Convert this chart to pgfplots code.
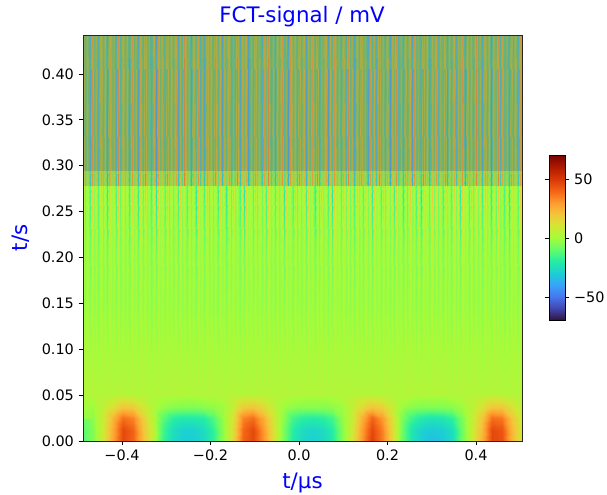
\documentclass[border=0pt]{standalone}
\usepackage{pgfplots}
\usepackage{pgfplotstable}
\usepackage{fontspec}
\setmainfont{DejaVu Sans}
\pgfplotsset{compat=1.18}
\pgfplotsset{colormap={turbo}{rgb255=(48,18,59) rgb255=(65,69,171) rgb255=(70,117,237) rgb255=(57,162,252) rgb255=(27,207,212) rgb255=(36,236,166) rgb255=(97,252,108) rgb255=(164,252,59) rgb255=(209,232,52) rgb255=(243,198,58) rgb255=(254,155,45) rgb255=(243,99,21) rgb255=(217,56,6) rgb255=(177,25,1) rgb255=(122,4,2)}}
\pgfplotsset{colormap={muted}{rgb255=(50,70,150) rgb255=(52,82,162) rgb255=(60,108,182) rgb255=(70,132,195) rgb255=(78,155,203) rgb255=(82,170,188) rgb255=(90,178,150) rgb255=(115,178,108) rgb255=(158,175,75) rgb255=(190,168,62) rgb255=(202,148,68) rgb255=(198,125,72) rgb255=(180,102,65) rgb255=(155,80,55) rgb255=(125,60,45)}}
\pgfplotsset{colormap={mutedb}{rgb255=(50,70,150) rgb255=(55,80,165) rgb255=(65,112,210) rgb255=(64,147,224) rgb255=(52,181,208) rgb255=(59,203,177) rgb255=(94,215,129) rgb255=(140,215,84) rgb255=(184,204,64) rgb255=(216,183,60) rgb255=(228,152,56) rgb255=(220,112,46) rgb255=(198,80,35) rgb255=(165,52,28) rgb255=(124,32,24)}}
\pgfplotstableread{
c
22
-10
14
-22
30
-4
12
-18
26
-8
18
-28
28
2
8
-20
33
-12
20
-6
16
-24
30
-2
10
-26
24
-14
34
-4
6
-20
22
-30
28
0
14
-16
32
-10
18
-6
26
-24
12
-12
34
-2
8
-28
24
-8
30
-16
10
-22
28
2
16
-14
32
-8
20
-26
14
-4
28
-18
6
-10
34
-22
18
0
24
-28
12
-12
30
-6
10
-20
26
-2
34
-16
16
-24
22
-6
30
-10
8
-30
28
-2
14
-18
32
-8
20
-26
12
-4
28
-14
34
-22
6
0
24
-28
18
-10
30
-6
10
-20
26
-16
33
-4
14
-24
22
-10
30
-2
8
-26
28
-12
18
-20
34
-6
12
-16
24
-30
16
0
32
-14
10
-22
26
-8
20
-28
30
-4
6
-18
34
-10
22
-24
14
-2
28
-16
8
-6
32
-26
18
-12
24
-20
12
0
30
-28
26
-8
16
-14
34
-4
10
-22
28
-10
20
-30
14
-2
32
-18
24
-6
8
-24
30
-12
18
-20
26
-4
}\tabTop
\pgfplotstablevertcat{\tabTopTwo}{\tabTop}
\pgfplotstablevertcat{\tabTopTwo}{\tabTop}
\pgfplotstableread{
c
4
3
4
2
4
3
3
2
4
3
4
2
4
3
3
2
4
3
4
3
3
2
4
3
3
2
4
3
4
3
3
2
4
2
4
3
3
2
4
3
}\tabRa
\pgfplotstableread{
c
0
-3
1
-4
2
-3
0
-4
2
-3
0
-4
2
-2
0
-4
2
-3
0
-3
0
-4
2
-2
0
-4
2
-3
2
-3
0
-4
0
-4
2
-2
0
-3
2
-3
}\tabRb
\pgfplotstableread{
c
3
-5
2
-7
4
-4
1
-6
4
-4
2
-8
4
-2
1
-6
5
-5
2
-4
2
-7
4
-3
1
-7
3
-5
5
-3
0
-6
3
-8
4
-2
2
-6
5
-4
}\tabRc
\pgfplotstableread{
c
7
-7
3
-12
11
-5
3
-11
10
-6
6
-15
11
-2
2
-11
12
-7
7
-6
4
-12
11
-3
2
-14
8
-9
12
-5
0
-11
7
-15
11
-2
3
-10
12
-7
}\tabRd
\pgfplotstableread{
c
11
-8
6
-15
16
-4
5
-13
14
-7
9
-19
15
-1
3
-14
18
-9
10
-6
8
-16
16
-3
4
-18
12
-10
18
-4
2
-14
11
-20
15
-2
6
-12
17
-8
}\tabRe
\newcommand\rowfive[1]{\pgfplotstablevertcat{\tabMid}{#1}\pgfplotstablevertcat{\tabMid}{#1}\pgfplotstablevertcat{\tabMid}{#1}\pgfplotstablevertcat{\tabMid}{#1}\pgfplotstablevertcat{\tabMid}{#1}}
\rowfive{\tabRa}
\rowfive{\tabRb}
\rowfive{\tabRc}
\rowfive{\tabRd}
\rowfive{\tabRe}
\rowfive{\tabRe}
\pgfplotstableread{
c
-13
-5
10
28
46
40
22
6
-16
-26
-30
-30
-27
-18
-3
14
40
46
32
14
-5
-21
-27
-29
-27
-21
-5
10
30
48
36
16
-8
-23
-30
-34
-32
-26
-8
8
24
46
44
24
10
-11
-5
9
27
46
40
21
6
-15
-25
-29
-29
-26
-18
-3
13
39
46
31
13
-5
-20
-26
-28
-26
-20
-5
9
29
46
35
15
-8
-23
-29
-31
-30
-25
-8
8
23
46
43
23
9
-9
-3
8
24
38
34
18
4
-11
-19
-21
-21
-20
-13
-2
11
34
38
26
11
-3
-15
-19
-20
-19
-15
-3
7
25
40
30
13
-6
-16
-21
-23
-22
-18
-6
6
20
38
36
20
8
-2
-1
6
12
20
18
10
3
-2
-4
-5
-5
-4
-3
-1
7
18
20
15
7
0
-3
-4
-4
-4
-3
-1
6
14
20
17
8
-1
-4
-5
-5
-5
-4
-1
5
11
20
19
12
6
2
3
3
4
6
5
4
3
2
2
1
1
2
2
3
4
5
6
5
4
3
2
1
1
1
2
3
4
5
6
5
4
3
2
1
1
1
2
3
4
5
6
6
4
3
}\tabBottom
\begin{document}
\begin{tikzpicture}
\path[use as bounding box] (0,0) rectangle (455.25pt,371.25pt);
\begin{axis}[
  at={(62.25pt,40.5pt)}, anchor=south west,
  scale only axis, width=329.25pt, height=304.5pt,
  xmin=-0.488, xmax=0.504, ymin=0, ymax=0.4425,
  axis on top, tick align=outside, tick pos=left,
  xtick={-0.4,-0.2,0,0.2,0.4},
  xticklabels={−0.4,−0.2,0.0,0.2,0.4},
  ytick={0,0.05,0.10,0.15,0.20,0.25,0.30,0.35,0.40},
  yticklabels={0.00,0.05,0.10,0.15,0.20,0.25,0.30,0.35,0.40},
  scaled x ticks=false, scaled y ticks=false,
  tick label style={font=\fontsize{10.8}{12}\selectfont, black},
  major tick length=3.3pt,
  tick style={black, line width=0.6pt},
  axis line style={line width=0.6pt, black!85},
  title={FCT-signal / mV},
  title style={font=\fontsize{16}{18}\selectfont, text=blue, at={(axis description cs:0.499,1.025)}, anchor=center},
  xlabel={t/µs}, ylabel={t/s},
  every axis x label/.style={at={(axis description cs:0.5,-0.103)}, anchor=center, font=\fontsize{16}{18}\selectfont, text=blue},
  every axis y label/.style={at={(axis description cs:-0.143,0.5)}, rotate=90, anchor=center, font=\fontsize{16}{18}\selectfont, text=blue},
  colormap name=turbo,
  point meta min=-70, point meta max=70,
  colorbar,
  colorbar style={
    at={(1.0615,0.5)}, anchor=west,
    width=12pt, height=123.75pt, scale only axis,
    ytick={-50,0,50},
    yticklabels={−50,0,50},
    ticklabel pos=right,
    tick align=outside,
    major tick length=3.3pt,
    tick label style={font=\fontsize{10.8}{12}\selectfont},
    axis line style={line width=0.6pt},
  },
]
\addplot[surf, shader=interp, mesh/cols=45, point meta=\thisrow{c}]
  table[x index=0, y index=0, x expr={-0.488+mod(\coordindex,45)*0.02255}, y expr={int(\coordindex/45)*0.0125}] {\tabBottom};
\addplot[surf, shader=interp, mesh/cols=200, point meta=\thisrow{c}]
  table[x index=0, y index=0, x expr={-0.488+mod(\coordindex,200)*0.004985},
        y expr={ifthenelse(\coordindex<200,0.05,ifthenelse(\coordindex<400,0.15,ifthenelse(\coordindex<600,0.205,ifthenelse(\coordindex<800,0.24,ifthenelse(\coordindex<1000,0.262,0.278)))))}] {\tabMid};
\addplot[surf, shader=interp, colormap name=mutedb, mesh/cols=200, point meta=\thisrow{c}]
  table[x index=0, y index=0, x expr={-0.488+mod(\coordindex,200)*0.004985},
        y expr={ifthenelse(\coordindex<200,0.278,0.295)}] {\tabTopTwo};
\addplot[surf, shader=interp, colormap name=muted, mesh/cols=200, point meta=\thisrow{c}]
  table[x index=0, y index=0, x expr={-0.488+mod(\coordindex,200)*0.004985},
        y expr={ifthenelse(\coordindex<200,0.295,0.4425)}] {\tabTopTwo};
\end{axis}
\end{tikzpicture}
\end{document}
